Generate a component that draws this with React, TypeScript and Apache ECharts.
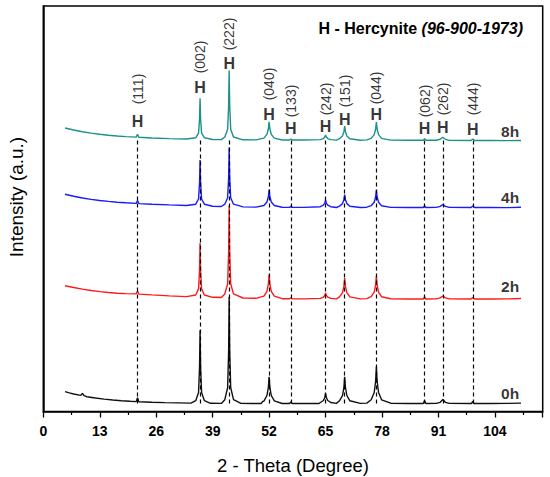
import React, { useEffect, useRef } from "react";
import * as echarts from "echarts";

// 2-theta (deg) vs intensity (a.u., arbitrary offset units)
const pattern0h: [number, number][] = [
  [5, 19.8], [6, 18.6], [7, 17.5], [8.6, 16.1], [9.0, 18.0], [9.4, 15.8], [10, 14.8], [12, 13.5], [14, 12.4], [16, 11.5], [18, 10.8], [20, 10.2],
  [21.4, 9.9], [21.7, 13.8], [22.0, 9.8],
  [25, 9.3], [28, 8.9], [31, 8.6], [34, 8.35],
  [35.1, 10.8], [35.75, 19], [35.98, 44.8], [36.1, 81.3], [36.22, 44.8], [36.45, 19], [37.1, 10.8],
  [38.5, 8.2], [41, 8.1],
  [41.8, 11.8], [42.45, 24], [42.68, 61.4], [42.8, 114.6], [42.92, 61.4], [43.15, 24], [43.8, 11.8],
  [45.5, 8.1], [48, 8.05], [50.2, 8.05], [50.5, 10], [50.8, 10.4],
  [51.5, 16], [51.82, 24], [52.0, 34.6], [52.18, 24], [52.5, 16], [53.2, 10.7],
  [55, 8], [56.7, 8], [57.0, 9.5], [57.3, 8],
  [60, 8], [63.5, 8],
  [63.8, 9], [64.5, 11], [64.82, 14], [65.0, 18], [65.18, 14], [65.5, 11], [66.2, 9],
  [67.5, 8.1],
  [68.2, 10.7], [68.9, 16], [69.22, 24], [69.4, 34.6], [69.58, 24], [69.9, 16], [70.6, 10.7],
  [73, 8.1], [74.5, 8.4],
  [75.5, 11.7], [76.2, 19], [76.52, 30], [76.7, 44.6], [76.88, 30], [77.2, 19], [77.9, 11.7],
  [80, 8.3], [84, 8], [87.5, 8], [87.8, 11], [88.1, 8],
  [90.5, 8.1], [91.4, 9.2], [92.0, 12], [92.6, 9.2], [93.5, 8.1],
  [98.6, 8], [98.9, 10], [99.2, 8],
  [103, 8], [107, 8.1], [110, 8.4],
];

const pattern2h: [number, number][] = [
  [5, 125.8], [7, 124], [9, 122.4], [11, 121], [13, 119.9], [15, 119], [17, 118.3], [19, 117.9],
  [21.4, 117.6], [21.7, 120.5], [22.0, 117.4],
  [25, 116.6], [29, 115.6], [33, 114.9],
  [35.1, 116.5], [35.75, 122.6], [35.98, 141.5], [36.1, 168.5], [36.22, 141.5], [36.45, 122.6], [37.1, 116.5],
  [39, 114.2], [41, 114],
  [41.8, 117.6], [42.45, 127.7], [42.68, 159.9], [42.8, 205.9], [42.92, 159.9], [43.15, 127.7], [43.8, 117.6],
  [46, 113.5], [49, 113.2],
  [50.8, 115.4], [51.5, 120.2], [51.82, 127.4], [52.0, 137], [52.18, 127.4], [52.5, 120.2], [53.2, 115.4],
  [55, 112.8], [56.7, 112.7], [57.0, 113.7], [57.3, 112.7],
  [60, 112.6], [63.8, 113.1],
  [64.5, 114.3], [64.82, 116.1], [65.0, 118.5], [65.18, 116.1], [65.5, 114.3], [66.2, 113.1],
  [67.5, 112.6],
  [68.2, 114.6], [68.9, 118.8], [69.22, 125.1], [69.4, 133.5], [69.58, 125.1], [69.9, 118.8], [70.6, 114.6],
  [73, 112.6], [74.5, 112.9],
  [75.5, 114.8], [76.2, 119.4], [76.52, 126.3], [76.7, 135.5], [76.88, 126.3], [77.2, 119.4], [77.9, 114.8],
  [80, 112.8], [84, 112.5], [87.5, 112.5], [87.8, 114.5], [88.1, 112.5],
  [90.5, 112.6], [91.4, 113.6], [92.0, 115.5], [92.6, 113.6], [93.5, 112.6],
  [98.5, 112.5], [98.9, 114], [99.3, 112.5],
  [103, 112.5], [107, 112.6], [110, 113],
];

const pattern4h: [number, number][] = [
  [5, 217.2], [7, 215.2], [9, 213.5], [11, 212.1], [13, 211], [15, 210.1], [17, 209.3], [19, 208.7],
  [21.4, 208.1], [21.7, 211], [22.0, 207.9],
  [25, 207.3], [29, 206.6], [33, 206],
  [35.1, 207.3], [35.75, 212.5], [35.98, 228.6], [36.1, 251.6], [36.22, 228.6], [36.45, 212.5], [37.1, 207.3],
  [39, 205.3], [41, 205],
  [41.8, 207.3], [42.45, 213.8], [42.68, 234.4], [42.8, 263.9], [42.92, 234.4], [43.15, 213.8], [43.8, 207.3],
  [46, 204.6], [49, 204.4],
  [50.8, 206], [51.5, 209.5], [51.82, 214.8], [52.0, 221.8], [52.18, 214.8], [52.5, 209.5], [53.2, 206],
  [55, 204.2], [56.7, 204.1], [57.0, 205.1], [57.3, 204.1],
  [60, 204.1], [63.8, 204.8],
  [64.5, 206.3], [64.82, 208.5], [65.0, 211.5], [65.18, 208.5], [65.5, 206.3], [66.2, 204.8],
  [67.5, 204],
  [68.2, 205.3], [68.9, 207.9], [69.22, 211.8], [69.4, 217], [69.58, 211.8], [69.9, 207.9], [70.6, 205.3],
  [73, 204], [74.5, 204.3],
  [75.5, 205.8], [76.2, 209.3], [76.52, 214.5], [76.7, 221.5], [76.88, 214.5], [77.2, 209.3], [77.9, 205.8],
  [80, 204.1], [84, 204], [87.5, 204], [87.8, 205.5], [88.1, 204],
  [90.5, 204.1], [91.4, 205.1], [92.0, 207], [92.6, 205.1], [93.5, 204.1],
  [98.5, 204], [98.9, 205.5], [99.3, 204],
  [103, 204], [107, 203.9], [110, 204.2],
];

const pattern8h: [number, number][] = [
  [5, 283.5], [7, 281.5], [9, 279.8], [11, 278.4], [13, 277.3], [15, 276.3], [17, 275.5], [19, 274.9],
  [21.4, 274.4], [21.7, 277.2], [22.0, 274.2],
  [25, 273.5], [29, 272.9], [33, 272.5],
  [35.1, 273.7], [35.75, 278.4], [35.98, 292.7], [36.1, 313.2], [36.22, 292.7], [36.45, 278.4], [37.1, 273.7],
  [39, 272], [41, 271.9],
  [41.8, 274.5], [42.45, 282.3], [42.68, 306.4], [42.8, 340.9], [42.92, 306.4], [43.15, 282.3], [43.8, 274.5],
  [46, 271.7], [49, 271.6],
  [50.8, 273.4], [51.5, 277.1], [51.82, 282.5], [52.0, 289.8], [52.18, 282.5], [52.5, 277.1], [53.2, 273.4],
  [55, 271.5], [56.7, 271.5], [57.0, 272.5], [57.3, 271.5],
  [60, 271.5], [63.8, 271.9],
  [64.5, 272.9], [64.82, 274.4], [65.0, 276.4], [65.18, 274.4], [65.5, 272.9], [66.2, 271.9],
  [67.5, 271.4],
  [68.2, 272.8], [68.9, 275.6], [69.22, 279.8], [69.4, 285.4], [69.58, 279.8], [69.9, 275.6], [70.6, 272.8],
  [73, 271.3], [74.5, 271.6],
  [75.5, 273.1], [76.2, 276.9], [76.52, 282.2], [76.7, 289.5], [76.88, 282.2], [77.2, 276.9], [77.9, 273.1],
  [80, 271.4], [84, 271.2], [87.5, 271.2], [87.8, 272.7], [88.1, 271.2],
  [90.5, 271.2], [91.4, 272.2], [92.0, 274.2], [92.6, 272.2], [93.5, 271.1],
  [98.5, 271], [98.9, 272.5], [99.3, 271],
  [103, 271], [107, 270.9], [110, 271],
];

const sampleNames = ["0h", "2h", "4h", "8h"];
const sampleColors = ["#111111", "#ff1a1a", "#1a1aff", "#1c9189"];
const sampleLabelX = 107.5;
const sampleLabelY = [18.5, 124.8, 213.8, 279.8];

const peakPositions = [21.7, 36.1, 42.8, 52.0, 57.0, 65.0, 69.4, 76.7, 87.8, 92.0, 98.9];
const millerLabels = ["(111)", "(002)", "(222)", "(040)", "(133)", "(242)", "(151)", "(044)", "(062)", "(262)", "(444)"];
const hLabelY = [290.5, 324.2, 348.2, 297.5, 283.5, 285.5, 292.5, 297.5, 283.5, 283.8, 282.5];
const millerLabelY = [322.5, 354.5, 377.5, 327.5, 310.5, 312.5, 320.5, 323.5, 310.5, 312.5, 312.5];
const dashBottom = 8;
const dashTop = 271;

const xTicks = { min: 0, max: 115, interval: 13 };

const FONT = "'Liberation Sans', Arial, Helvetica, sans-serif";

export default function App() {
  const ref = useRef<HTMLDivElement>(null);
  useEffect(() => {
    if (!ref.current) return;
    const chart = echarts.init(ref.current, undefined, { renderer: "svg" });
    const patterns = [pattern0h, pattern2h, pattern4h, pattern8h];
    const lineSeries = patterns.map((d, i) => ({
      type: "line",
      name: sampleNames[i],
      data: d,
      showSymbol: false,
      symbol: "none",
      smooth: false,
      lineStyle: { color: sampleColors[i], width: 1.4 },
      z: 2 + i,
      markLine:
        i === 0
          ? {
              silent: true,
              symbol: ["none", "none"],
              label: { show: false },
              lineStyle: { color: "#000", width: 1.2, type: [4, 3] },
              data: peakPositions.map((p) => [
                { coord: [p, dashBottom] },
                { coord: [p, dashTop] },
              ]),
            }
          : undefined,
    }));

    chart.setOption({
      animation: false,
      textStyle: { fontFamily: FONT },
      title: {
        text: "{a|H - Hercynite }{b|(96-900-1973)}",
        right: 22,
        top: 15,
        textStyle: {
          rich: {
            a: { fontSize: 16, fontWeight: "bold", color: "#000", fontFamily: FONT },
            b: { fontSize: 16, fontWeight: "bold", fontStyle: "italic", color: "#000", fontFamily: FONT },
          },
        },
      },
      grid: {
        left: 43.3,
        right: 7.3,
        top: 6,
        bottom: 65.5,
        show: true,
        borderColor: "#000",
        borderWidth: 1.5,
        backgroundColor: "transparent",
        outerBoundsMode: "none",
      },
      xAxis: {
        type: "value",
        min: xTicks.min,
        max: xTicks.max,
        interval: xTicks.interval,
        name: "2 - Theta (Degree)",
        nameLocation: "middle",
        nameGap: 44,
        nameTextStyle: { fontSize: 18.5, color: "#000", fontFamily: FONT },
        axisLine: { show: true, lineStyle: { color: "#000", width: 1.5 } },
        axisTick: { show: true, inside: false, length: 6, lineStyle: { color: "#000", width: 1.3 } },
        minorTick: { show: true, splitNumber: 2, length: 3.5, lineStyle: { color: "#000", width: 1.2 } },
        axisLabel: {
          show: true,
          margin: 12,
          fontSize: 14,
          fontWeight: "bold",
          color: "#000",
          fontFamily: FONT,
          showMaxLabel: false,
        },
        splitLine: { show: false },
      },
      yAxis: {
        type: "value",
        min: 0,
        max: 405.5,
        axisLine: { show: true, lineStyle: { color: "#000", width: 1.5 } },
        axisTick: { show: false },
        axisLabel: { show: false },
        splitLine: { show: false },
      },
      graphic: [
        {
          type: "text",
          x: 16,
          y: 197,
          rotation: Math.PI / 2,
          style: {
            text: "Intensity (a.u.)",
            fontSize: 19,
            fontFamily: FONT,
            fill: "#000",
            align: "center",
            verticalAlign: "middle",
          },
        },
      ],
      series: [
        ...lineSeries,
        {
          type: "scatter",
          symbolSize: 0,
          silent: true,
          z: 10,
          data: peakPositions.map((p, i) => [p, hLabelY[i], "H"]),
          label: {
            show: true,
            position: "inside",
            formatter: (pr: any) => pr.data[2],
            fontSize: 16,
            fontWeight: "bold",
            color: "#000",
            fontFamily: FONT,
          },
        },
        {
          type: "scatter",
          symbolSize: 0,
          silent: true,
          z: 10,
          data: peakPositions.map((p, i) => [p, millerLabelY[i], millerLabels[i]]),
          label: {
            show: true,
            position: "inside",
            rotate: 90,
            formatter: (pr: any) => pr.data[2],
            fontSize: 14,
            color: "#000",
            fontFamily: FONT,
          },
        },
        {
          type: "scatter",
          symbolSize: 0,
          silent: true,
          z: 10,
          data: sampleNames.map((n, i) => [sampleLabelX, sampleLabelY[i], n]),
          label: {
            show: true,
            position: "inside",
            formatter: (pr: any) => pr.data[2],
            fontSize: 15.5,
            fontWeight: "bold",
            color: "#000",
            fontFamily: FONT,
          },
        },
      ],
    });
    return () => chart.dispose();
  }, []);
  return (
    <div
      ref={ref}
      style={{ position: "fixed", left: 0, top: 0, width: 550, height: 477, background: "#fff" }}
    />
  );
}
